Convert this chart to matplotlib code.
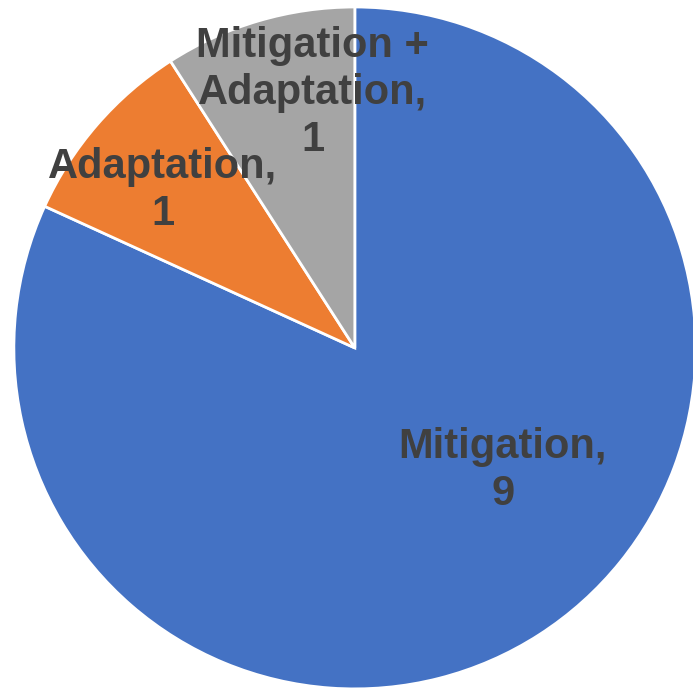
import matplotlib
matplotlib.use("Agg")
import matplotlib.pyplot as plt

labels = ['Mitigation', 'Adaptation', 'Mitigation +\nAdaptation']
values = [9, 1, 1]
colors = ['#4472C4', '#ED7D31', '#A5A5A5']
# label centres in pie-radius units
label_pos = [(0.434, -0.36), (-0.563, 0.462), (-0.123, 0.748)]

plt.rcParams['font.family'] = ['Liberation Sans', 'DejaVu Sans']

fig = plt.figure(figsize=(6.93, 6.89), dpi=100)
ax = fig.add_axes([0.020, 0.0, 0.984, 0.99])
ax.pie(values, colors=colors, startangle=90, counterclock=False,
       wedgeprops=dict(edgecolor='white', linewidth=2), radius=1.0)
ax.set_xlim(-1, 1)
ax.set_ylim(-1, 1)
ax.set_aspect('equal')

for lab, val, (x, y) in zip(labels, values, label_pos):
    ax.text(x, y, f"{lab},\n{val}", ha='center', va='center', fontsize=30,
            fontweight='bold', color='#404040', linespacing=1.22)

fig.savefig('out.png', dpi=100)
